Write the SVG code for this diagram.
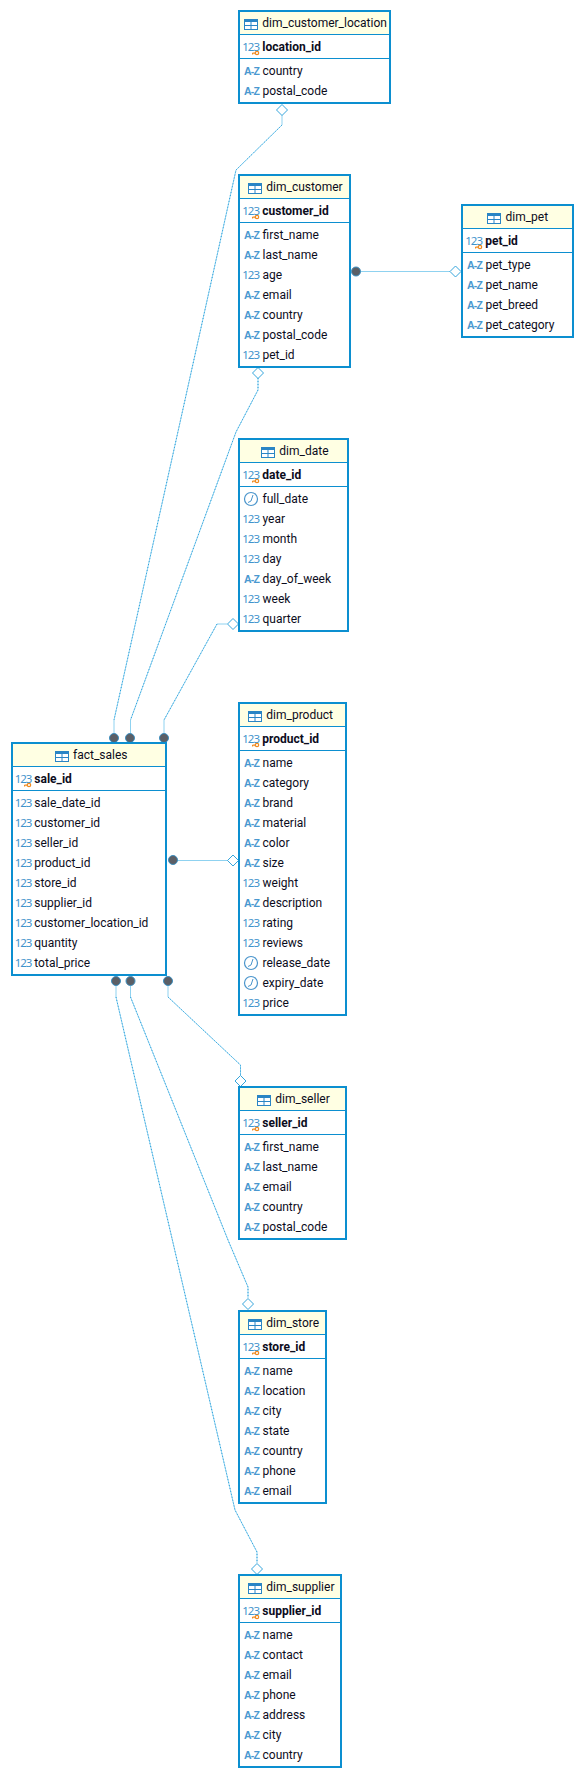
<svg xmlns="http://www.w3.org/2000/svg" xmlns:xlink="http://www.w3.org/1999/xlink" width="584" height="1778" viewBox="0 0 584 1778">
<style>
text{font-family:Roboto,"Noto Sans","Liberation Sans",sans-serif;font-size:12px;fill:#0c0c1c}
.pk{font-weight:700}
.n{font-size:11.500px;fill:#3f93cc;font-family:"Noto Sans",sans-serif;letter-spacing:-1px}
.a{font-size:10.500px;font-weight:700;fill:#4a98d0;font-family:"Liberation Sans",sans-serif;letter-spacing:-.8px}
.box{fill:#fff;stroke:#0c8fd0;stroke-width:2}
.head{fill:#ffffe3}
.sep{stroke:#0c8fd0;stroke-width:1}
.lnk{fill:none;stroke:#8fd2f0;stroke-width:1}
.dot{fill:none;stroke:#2aa0dc;stroke-width:1;stroke-dasharray:1 2}
.dia{fill:#fff;stroke:#35a5dc;stroke-width:1}
.cir{fill:#5b5f66;stroke:#3d8fc0;stroke-width:1}
</style>
<defs>
<g id="tbl"><rect x=".5" y=".5" width="13" height="10" fill="#fff" stroke="#2a85c5"/><rect x=".5" y=".5" width="13" height="2" fill="#2a85c5" stroke="#2a85c5"/><path d="M7 3V10.500M1 6.500H13" stroke="#2a85c5" fill="none"/></g>
<g id="key"><path d="M0 2H3M0 2V3.500M1.500 2V3.200" stroke="#f08a1e" fill="none"/><circle cx="4.500" cy="2" r="1.700" fill="none" stroke="#f08a1e" stroke-width="1.200"/></g>
<g id="clk"><circle cx="0" cy="0" r="6.500" fill="#fff" stroke="#4a95cc" stroke-width="1.200"/><path d="M2-4L0 2L-3 3.500" fill="none" stroke="#4a95cc"/></g>
<path id="d" d="M0-5.500L5.500 0L0 5.500L-5.500 0Z"/>
</defs>
<g id="connectors">
<path class="lnk" d="M282 115V125L236 170L114 720V734"/><path class="dot" d="M282 125L236 170L114 720"/>
<path class="lnk" d="M258 378V390L236 432L130.500 720V734"/><path class="dot" d="M258 378V390L236 432L130.500 720"/>
<path class="lnk" d="M227 624H217L164 720V734"/><path class="dot" d="M217 624L164 720"/>
<path class="lnk" d="M177 860.500H228"/>
<path class="lnk" d="M360 271.500H450"/>
<path class="lnk" d="M168 985V997L240.500 1065V1075"/><path class="dot" d="M168 997L240.500 1065V1075"/>
<path class="lnk" d="M130.500 985V997L228 1240L248 1287V1298"/><path class="dot" d="M130.500 997L228 1240L248 1287V1298"/>
<path class="lnk" d="M116 985V997L235 1510L257 1552V1563"/><path class="dot" d="M116 997L235 1510L257 1552V1563"/>
<use class="dia" href="#d" x="282" y="110"/><use class="dia" href="#d" x="258" y="373"/><use class="dia" href="#d" x="233" y="624"/><use class="dia" href="#d" x="233" y="860.500"/><use class="dia" href="#d" x="455.500" y="271.500"/><use class="dia" href="#d" x="240.500" y="1081"/><use class="dia" href="#d" x="248" y="1304"/><use class="dia" href="#d" x="257" y="1569"/>
<circle class="cir" cx="114" cy="738" r="4.500"/><circle class="cir" cx="130" cy="738" r="4.500"/><circle class="cir" cx="164" cy="738" r="4.500"/><circle class="cir" cx="173" cy="860" r="4.500"/><circle class="cir" cx="356" cy="271.500" r="4.500"/><circle class="cir" cx="116" cy="981" r="4.500"/><circle class="cir" cx="130.500" cy="981" r="4.500"/><circle class="cir" cx="168" cy="981" r="4.500"/>
</g>
<g id="dim_customer_location" transform="translate(239 11)">
<rect class="box" width="151" height="92"/><rect class="head" x="1" y="1" width="149" height="22"/><path class="sep" d="M0 23.500H151M0 47.500H151"/>
<use href="#tbl" x="5" y="8"/><text x="23.300" y="16">dim_customer_location</text>
<text class="n" x="3.300" y="40">123</text><use href="#key" x="13.500" y="40"/><text class="pk" x="23.300" y="40">location_id</text>
<text class="a" x="5" y="64">A-Z</text><text x="23.500" y="64">country</text>
<text class="a" x="5" y="84">A-Z</text><text x="23.500" y="84">postal_code</text>
</g>
<g id="dim_customer" transform="translate(239 175)">
<rect class="box" width="111" height="192"/><rect class="head" x="1" y="1" width="109" height="22"/><path class="sep" d="M0 23.500H111M0 47.500H111"/>
<use href="#tbl" x="9" y="8"/><text x="27.300" y="16">dim_customer</text>
<text class="n" x="3.300" y="40">123</text><use href="#key" x="13.500" y="40"/><text class="pk" x="23.300" y="40">customer_id</text>
<text class="a" x="5" y="64">A-Z</text><text x="23.500" y="64">first_name</text>
<text class="a" x="5" y="84">A-Z</text><text x="23.500" y="84">last_name</text>
<text class="n" x="3.300" y="104">123</text><text x="23.500" y="104">age</text>
<text class="a" x="5" y="124">A-Z</text><text x="23.500" y="124">email</text>
<text class="a" x="5" y="144">A-Z</text><text x="23.500" y="144">country</text>
<text class="a" x="5" y="164">A-Z</text><text x="23.500" y="164">postal_code</text>
<text class="n" x="3.300" y="184">123</text><text x="23.500" y="184">pet_id</text>
</g>
<g id="dim_pet" transform="translate(462 205)">
<rect class="box" width="111" height="132"/><rect class="head" x="1" y="1" width="109" height="22"/><path class="sep" d="M0 23.500H111M0 47.500H111"/>
<use href="#tbl" x="25" y="8"/><text x="43.500" y="16">dim_pet</text>
<text class="n" x="3.300" y="40">123</text><use href="#key" x="13.500" y="40"/><text class="pk" x="23.300" y="40">pet_id</text>
<text class="a" x="5" y="64">A-Z</text><text x="23.500" y="64">pet_type</text>
<text class="a" x="5" y="84">A-Z</text><text x="23.500" y="84">pet_name</text>
<text class="a" x="5" y="104">A-Z</text><text x="23.500" y="104">pet_breed</text>
<text class="a" x="5" y="124">A-Z</text><text x="23.500" y="124">pet_category</text>
</g>
<g id="dim_date" transform="translate(239 439)">
<rect class="box" width="109" height="192"/><rect class="head" x="1" y="1" width="107" height="22"/><path class="sep" d="M0 23.500H109M0 47.500H109"/>
<use href="#tbl" x="22" y="8"/><text x="40.300" y="16">dim_date</text>
<text class="n" x="3.300" y="40">123</text><use href="#key" x="13.500" y="40"/><text class="pk" x="23.300" y="40">date_id</text>
<use href="#clk" x="12" y="60"/><text x="23.500" y="64">full_date</text>
<text class="n" x="3.300" y="84">123</text><text x="23.500" y="84">year</text>
<text class="n" x="3.300" y="104">123</text><text x="23.500" y="104">month</text>
<text class="n" x="3.300" y="124">123</text><text x="23.500" y="124">day</text>
<text class="a" x="5" y="144">A-Z</text><text x="23.500" y="144">day_of_week</text>
<text class="n" x="3.300" y="164">123</text><text x="23.500" y="164">week</text>
<text class="n" x="3.300" y="184">123</text><text x="23.500" y="184">quarter</text>
</g>
<g id="dim_product" transform="translate(239 703)">
<rect class="box" width="107" height="312"/><rect class="head" x="1" y="1" width="105" height="22"/><path class="sep" d="M0 23.500H107M0 47.500H107"/>
<use href="#tbl" x="9" y="8"/><text x="27.300" y="16">dim_product</text>
<text class="n" x="3.300" y="40">123</text><use href="#key" x="13.500" y="40"/><text class="pk" x="23.300" y="40">product_id</text>
<text class="a" x="5" y="64">A-Z</text><text x="23.500" y="64">name</text>
<text class="a" x="5" y="84">A-Z</text><text x="23.500" y="84">category</text>
<text class="a" x="5" y="104">A-Z</text><text x="23.500" y="104">brand</text>
<text class="a" x="5" y="124">A-Z</text><text x="23.500" y="124">material</text>
<text class="a" x="5" y="144">A-Z</text><text x="23.500" y="144">color</text>
<text class="a" x="5" y="164">A-Z</text><text x="23.500" y="164">size</text>
<text class="n" x="3.300" y="184">123</text><text x="23.500" y="184">weight</text>
<text class="a" x="5" y="204">A-Z</text><text x="23.500" y="204">description</text>
<text class="n" x="3.300" y="224">123</text><text x="23.500" y="224">rating</text>
<text class="n" x="3.300" y="244">123</text><text x="23.500" y="244">reviews</text>
<use href="#clk" x="12" y="260"/><text x="23.500" y="264">release_date</text>
<use href="#clk" x="12" y="280"/><text x="23.500" y="284">expiry_date</text>
<text class="n" x="3.300" y="304">123</text><text x="23.500" y="304">price</text>
</g>
<g id="fact_sales" transform="translate(12 743)">
<rect class="box" width="154" height="232"/><rect class="head" x="1" y="1" width="152" height="22"/><path class="sep" d="M0 23.500H154M0 47.500H154"/>
<use href="#tbl" x="43" y="8"/><text x="61" y="16">fact_sales</text>
<text class="n" x="2.700" y="40">123</text><use href="#key" x="12.500" y="40"/><text class="pk" x="22.300" y="40">sale_id</text>
<text class="n" x="2.700" y="64">123</text><text x="22.300" y="64">sale_date_id</text>
<text class="n" x="2.700" y="84">123</text><text x="22.300" y="84">customer_id</text>
<text class="n" x="2.700" y="104">123</text><text x="22.300" y="104">seller_id</text>
<text class="n" x="2.700" y="124">123</text><text x="22.300" y="124">product_id</text>
<text class="n" x="2.700" y="144">123</text><text x="22.300" y="144">store_id</text>
<text class="n" x="2.700" y="164">123</text><text x="22.300" y="164">supplier_id</text>
<text class="n" x="2.700" y="184">123</text><text x="22.300" y="184">customer_location_id</text>
<text class="n" x="2.700" y="204">123</text><text x="22.300" y="204">quantity</text>
<text class="n" x="2.700" y="224">123</text><text x="22.300" y="224">total_price</text>
</g>
<g id="dim_seller" transform="translate(239 1087)">
<rect class="box" width="107" height="152"/><rect class="head" x="1" y="1" width="105" height="22"/><path class="sep" d="M0 23.500H107M0 47.500H107"/>
<use href="#tbl" x="18" y="8"/><text x="36.300" y="16">dim_seller</text>
<text class="n" x="3.300" y="40">123</text><use href="#key" x="13.500" y="40"/><text class="pk" x="23.300" y="40">seller_id</text>
<text class="a" x="5" y="64">A-Z</text><text x="23.500" y="64">first_name</text>
<text class="a" x="5" y="84">A-Z</text><text x="23.500" y="84">last_name</text>
<text class="a" x="5" y="104">A-Z</text><text x="23.500" y="104">email</text>
<text class="a" x="5" y="124">A-Z</text><text x="23.500" y="124">country</text>
<text class="a" x="5" y="144">A-Z</text><text x="23.500" y="144">postal_code</text>
</g>
<g id="dim_store" transform="translate(239 1311)">
<rect class="box" width="87" height="192"/><rect class="head" x="1" y="1" width="85" height="22"/><path class="sep" d="M0 23.500H87M0 47.500H87"/>
<use href="#tbl" x="9" y="8"/><text x="27.300" y="16">dim_store</text>
<text class="n" x="3.300" y="40">123</text><use href="#key" x="13.500" y="40"/><text class="pk" x="23.300" y="40">store_id</text>
<text class="a" x="5" y="64">A-Z</text><text x="23.500" y="64">name</text>
<text class="a" x="5" y="84">A-Z</text><text x="23.500" y="84">location</text>
<text class="a" x="5" y="104">A-Z</text><text x="23.500" y="104">city</text>
<text class="a" x="5" y="124">A-Z</text><text x="23.500" y="124">state</text>
<text class="a" x="5" y="144">A-Z</text><text x="23.500" y="144">country</text>
<text class="a" x="5" y="164">A-Z</text><text x="23.500" y="164">phone</text>
<text class="a" x="5" y="184">A-Z</text><text x="23.500" y="184">email</text>
</g>
<g id="dim_supplier" transform="translate(239 1575)">
<rect class="box" width="102" height="192"/><rect class="head" x="1" y="1" width="100" height="22"/><path class="sep" d="M0 23.500H102M0 47.500H102"/>
<use href="#tbl" x="9" y="8"/><text x="27.300" y="16">dim_supplier</text>
<text class="n" x="3.300" y="40">123</text><use href="#key" x="13.500" y="40"/><text class="pk" x="23.300" y="40">supplier_id</text>
<text class="a" x="5" y="64">A-Z</text><text x="23.500" y="64">name</text>
<text class="a" x="5" y="84">A-Z</text><text x="23.500" y="84">contact</text>
<text class="a" x="5" y="104">A-Z</text><text x="23.500" y="104">email</text>
<text class="a" x="5" y="124">A-Z</text><text x="23.500" y="124">phone</text>
<text class="a" x="5" y="144">A-Z</text><text x="23.500" y="144">address</text>
<text class="a" x="5" y="164">A-Z</text><text x="23.500" y="164">city</text>
<text class="a" x="5" y="184">A-Z</text><text x="23.500" y="184">country</text>
</g>
</svg>
